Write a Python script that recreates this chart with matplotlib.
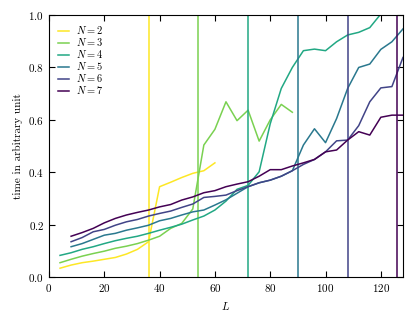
import numpy as np
import matplotlib
matplotlib.use('Agg')
import matplotlib.pyplot as plt

plt.rcParams['font.family'] = 'serif'
plt.rcParams['font.serif'] = ['cmr10']
plt.rcParams['mathtext.fontset'] = 'cm'
plt.rcParams['axes.formatter.use_mathtext'] = True
plt.rcParams['font.size'] = 8

# system sizes and measured times
Ns = [2, 3, 4, 5, 6, 7]
L_crit = [36, 54, 72, 90, 108, 126]

L_n2 = list(range(4, 61, 4))
t_n2 = [0.034, 0.046, 0.055, 0.061, 0.068, 0.075, 0.088, 0.106, 0.135,
        0.345, 0.362, 0.38, 0.396, 0.406, 0.436]

L_n3 = list(range(4, 89, 4))
t_n3 = [0.055, 0.068, 0.08, 0.09, 0.099, 0.11, 0.118, 0.128, 0.141, 0.156,
        0.186, 0.205, 0.26, 0.504, 0.564, 0.669, 0.597, 0.637, 0.519, 0.60,
        0.659, 0.629]

L_n4 = list(range(4, 121, 4))
t_n4 = [0.083, 0.093, 0.106, 0.116, 0.128, 0.139, 0.148, 0.156, 0.167, 0.179,
        0.19, 0.202, 0.218, 0.233, 0.256, 0.29, 0.335, 0.35, 0.402, 0.585,
        0.72, 0.80, 0.864, 0.87, 0.864, 0.898, 0.924, 0.934, 0.952, 1.004]

L_n5 = list(range(8, 129, 4))
t_n5 = [0.116, 0.128, 0.144, 0.16, 0.167, 0.179, 0.188, 0.198, 0.215, 0.224,
        0.237, 0.249, 0.256, 0.275, 0.295, 0.32, 0.345, 0.36, 0.37, 0.385,
        0.406, 0.504, 0.566, 0.513, 0.605, 0.72, 0.80, 0.813, 0.869, 0.898,
        0.947]

L_n6 = list(range(8, 129, 4))
t_n6 = [0.135, 0.151, 0.173, 0.182, 0.198, 0.211, 0.22, 0.233, 0.243, 0.252,
        0.266, 0.279, 0.304, 0.308, 0.313, 0.33, 0.345, 0.36, 0.37, 0.385,
        0.406, 0.43, 0.449, 0.478, 0.52, 0.523, 0.578, 0.669, 0.722, 0.727,
        0.838]

L_n7 = list(range(8, 129, 4))
t_n7 = [0.156, 0.17, 0.186, 0.207, 0.224, 0.237, 0.247, 0.256, 0.268, 0.277,
        0.294, 0.306, 0.322, 0.33, 0.345, 0.355, 0.364, 0.385, 0.41, 0.41,
        0.424, 0.436, 0.449, 0.478, 0.485, 0.523, 0.555, 0.542, 0.61, 0.618,
        0.618]

Ls = [L_n2, L_n3, L_n4, L_n5, L_n6, L_n7]
ts = [t_n2, t_n3, t_n4, t_n5, t_n6, t_n7]

colors = plt.cm.viridis(np.linspace(1, 0, len(Ns)))

fig = plt.figure(figsize=(4.15, 3.2), dpi=100)
ax = fig.add_axes([0.118, 0.134, 0.853, 0.819])

for i in range(len(Ns)):
    ax.plot(Ls[i], ts[i], color=colors[i], lw=1.1, label='$N = %d$' % Ns[i])
    ax.axvline(L_crit[i], color=colors[i], lw=1.1)

ax.set_xlim(0, 128)
ax.set_ylim(0, 1)
ax.set_xticks([0, 20, 40, 60, 80, 100, 120])
ax.set_yticks([0.0, 0.2, 0.4, 0.6, 0.8, 1.0])
ax.tick_params(direction='in', top=True, right=True, length=4)
ax.set_xlabel('$L$')
ax.set_ylabel('time in arbitrary unit')
ax.legend(loc='upper left', frameon=False, handlelength=1.05,
          handletextpad=0.65, labelspacing=0.0, borderaxespad=0.5,
          fontsize=7.5)

plt.savefig('out.png', dpi=100)
